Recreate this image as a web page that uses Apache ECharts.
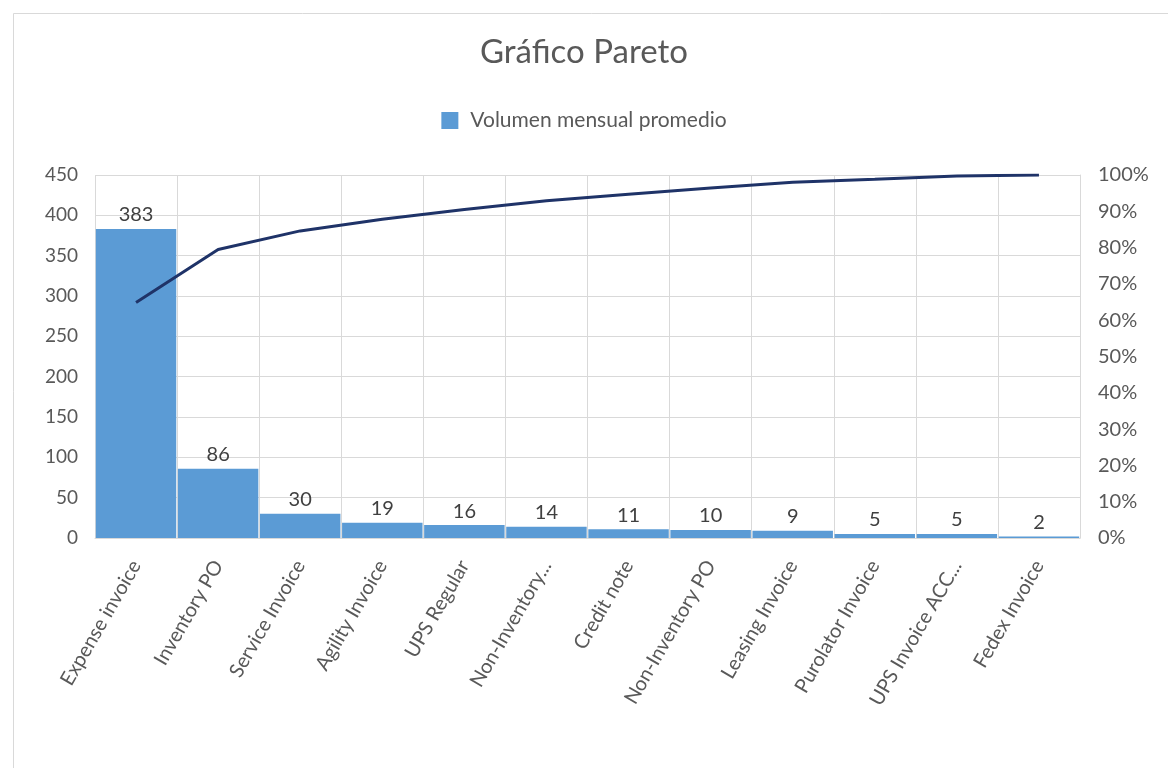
<!DOCTYPE html>
<html>
<head>
<meta charset="utf-8">
<script src="https://cdn.jsdelivr.net/npm/echarts@6/dist/echarts.min.js"></script>
<style>
  html, body { margin: 0; padding: 0; background: #ffffff; }
  #chart { width: 1168px; height: 768px; }
</style>
</head>
<body>
<div id="chart"></div>
<script>
// Invoice types, ordered by average monthly volume
const categories = [
  'Expense invoice', 'Inventory PO', 'Service Invoice', 'Agility Invoice',
  'UPS Regular', 'Non-Inventory...', 'Credit note', 'Non-Inventory PO',
  'Leasing Invoice', 'Purolator Invoice', 'UPS Invoice ACC...', 'Fedex Invoice'
];
// Average monthly volume per type
const volumes = [383, 86, 30, 19, 16, 14, 11, 10, 9, 5, 5, 2];
// Cumulative share of the total volume (%)
const cumulativePct = [64.9, 79.5, 84.6, 87.8, 90.5, 92.9, 94.7, 96.4, 98.0, 98.8, 99.7, 100];

const FONT = 'Lato, "Open Sans", sans-serif';
const TEXT = '#595959';
const GRID = '#d9d9d9';

const chart = echarts.init(document.getElementById('chart'), null, { renderer: 'canvas' });

chart.setOption({
  backgroundColor: '#ffffff',
  animation: false,
  graphic: [{
    type: 'rect',
    shape: { x: 13.5, y: 13.5, width: 1200, height: 800 },
    style: { fill: 'none', stroke: '#d9d9d9', lineWidth: 1 },
    silent: true
  }],
  title: {
    text: 'Gráfico Pareto',
    left: 'center',
    top: 31,
    textStyle: { fontFamily: FONT, fontSize: 33, fontWeight: 'normal', color: TEXT }
  },
  legend: {
    data: [{ name: 'Volumen mensual promedio', icon: 'rect' }],
    top: 105,
    left: 'center',
    itemWidth: 17,
    itemHeight: 17,
    itemGap: 10,
    textStyle: { fontFamily: FONT, fontSize: 21, color: TEXT, padding: [0, 0, 0, 7] }
  },
  grid: { left: 95, right: 88, top: 175, bottom: 230, containLabel: false },
  xAxis: {
    type: 'category',
    data: categories,
    axisLine: { show: true, lineStyle: { color: GRID } },
    axisTick: { show: false },
    splitLine: { show: true, lineStyle: { color: GRID, width: 1 } },
    axisLabel: {
      rotate: 60,
      interval: 0,
      margin: 24,
      fontFamily: FONT,
      fontSize: 20,
      color: TEXT
    }
  },
  yAxis: [
    {
      type: 'value',
      min: 0,
      max: 450,
      interval: 50,
      axisLine: { show: false },
      axisTick: { show: false },
      splitLine: { show: true, lineStyle: { color: GRID, width: 1 } },
      axisLabel: { margin: 17, fontFamily: FONT, fontSize: 19, color: TEXT }
    },
    {
      type: 'value',
      min: 0,
      max: 100,
      interval: 10,
      axisLine: { show: true, lineStyle: { color: GRID } },
      axisTick: { show: false },
      splitLine: { show: false },
      axisLabel: { margin: 18, fontFamily: FONT, fontSize: 20, color: TEXT, formatter: '{value}%' }
    }
  ],
  series: [
    {
      name: 'Volumen mensual promedio',
      type: 'bar',
      data: volumes,
      barCategoryGap: '2%',
      itemStyle: { color: '#5b9bd5' },
      label: {
        show: true,
        position: 'top',
        distance: 4,
        fontFamily: FONT,
        fontSize: 20,
        color: '#404040'
      }
    },
    {
      name: 'Acumulado',
      type: 'line',
      yAxisIndex: 1,
      data: cumulativePct,
      symbol: 'none',
      lineStyle: { color: '#1f3368', width: 3 },
      z: 5
    }
  ]
});
</script>
</body>
</html>
